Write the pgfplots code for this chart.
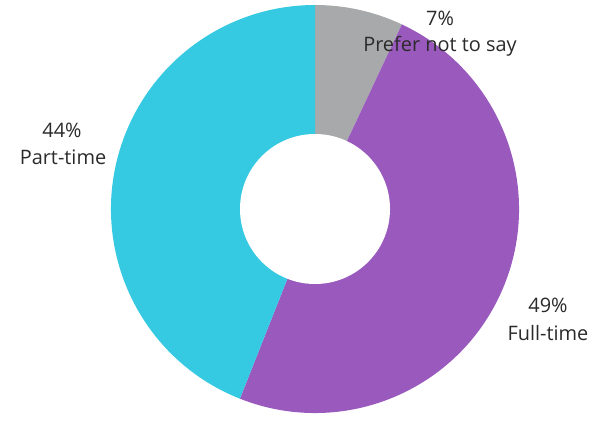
\documentclass[border=0pt]{standalone}
\usepackage{pgfplots}
\pgfplotsset{compat=1.18}
\usepackage{fontspec}
\setmainfont{Open Sans}
\definecolor{cgray}{HTML}{A8A9AB}
\definecolor{cpurple}{HTML}{9A5ABD}
\definecolor{cteal}{HTML}{36C9E2}
\definecolor{ctext}{HTML}{2A2A2A}
\begin{document}
\begin{tikzpicture}
\begin{axis}[x=1bp,y=1bp,xmin=0,xmax=597,ymin=0,ymax=414,hide axis,scale only axis,clip=false]
\path (axis cs:0,0) rectangle (axis cs:597,414);
\gdef\startang{90}
\foreach \v/\c in {7/cgray,49/cpurple,44/cteal}{
  \pgfmathsetmacro{\endang}{\startang-3.6*\v}
  \edef\temp{\noexpand\fill[\c] (axis cs:315,205) -- ++(\startang:204bp) arc[start angle=\startang,end angle=\endang,radius=204bp] -- cycle;}
  \temp
  \xdef\startang{\endang}
}
\fill[white] (axis cs:315,205) circle[radius=75bp];
\begin{scope}[every node/.style={font=\fontsize{20}{24}\selectfont,text=ctext,inner sep=0pt}]
\node at (axis cs:440,396) {7\%};
\node at (axis cs:440,368) {Prefer not to say};
\node at (axis cs:62,284) {44\%};
\node at (axis cs:63,257) {Part-time};
\node at (axis cs:548,109) {49\%};
\node at (axis cs:548,81) {Full-time};
\end{scope}
\end{axis}
\end{tikzpicture}
\end{document}
